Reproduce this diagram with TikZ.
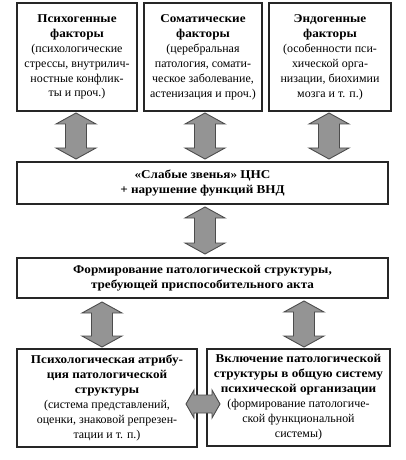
\documentclass[tikz,border=0pt]{standalone}
\usepackage{fontspec}
\setmainfont{Liberation Serif}[BoldFeatures={FakeStretch=1.1}]
\begin{document}
\begin{tikzpicture}[x=1bp,y=-1bp,
  box/.style={draw=black!85, line width=1.1bp, fill=white, align=center, inner sep=0pt,
              font=\fontsize{12}{15}\selectfont},
  barrow/.style={fill=black!42, draw=black!70, line width=0.9bp, line join=miter}]
\useasboundingbox (0,0) rectangle (405,460);
\newcommand\vdarrow[3]{%
 \draw[barrow] (#1,#2) -- (#1+20,#2+11) -- (#1+10.5,#2+11) -- (#1+10.5,#3-11)
   -- (#1+20,#3-11) -- (#1,#3) -- (#1-20,#3-11) -- (#1-10.5,#3-11)
   -- (#1-10.5,#2+11) -- (#1-20,#2+11) -- cycle;}
\newcommand\hdarrow[3]{%
 \draw[barrow] (#1,#3) -- (#1+8,#3-14) -- (#1+8,#3-9) -- (#2-8,#3-9) -- (#2-8,#3-14)
   -- (#2,#3) -- (#2-8,#3+14) -- (#2-8,#3+9) -- (#1+8,#3+9) -- (#1+8,#3+14) -- cycle;}

\node[box, minimum width=120bp, minimum height=108bp] (b1) at (77,57)
 {\textbf{Психогенные}\\\textbf{факторы}\\(психологические\\стрессы, внутрилич-\\ностные конфлик-\\ты и проч.)};
\node[box, minimum width=118bp, minimum height=108bp] (b2) at (203,57)
 {\textbf{Соматические}\\\textbf{факторы}\\(церебральная\\патология, сомати-\\ческое заболевание,\\астенизация и проч.)};
\node[box, minimum width=122bp, minimum height=108bp] (b3) at (330,57)
 {\textbf{Эндогенные}\\\textbf{факторы}\\(особенности пси-\\хической орга-\\низации, биохимии\\мозга и т. п.)};

\node[box, minimum width=371bp, minimum height=42bp] (mid) at (202.5,183)
 {\textbf{«Слабые звенья» ЦНС}\\\textbf{+ нарушение функций ВНД}};
\node[box, minimum width=371bp, minimum height=40bp] (form) at (202.5,278)
 {\textbf{Формирование патологической структуры,}\\\textbf{требующей приспособительного акта}};

\node[box, minimum width=180bp, minimum height=98bp] (bl) at (107,398)
 {\textbf{Психологическая атрибу-}\\\textbf{ция патологической}\\\textbf{структуры}\\(система представлений,\\оценки, знаковой репрезен-\\тации и т. п.)};
\node[box, minimum width=183bp, minimum height=97bp] (br) at (298.5,397.5)
 {\textbf{Включение патологической}\\\textbf{структуры в общую систему}\\\textbf{психической организации}\\(формирование патологиче-\\ской функциональной\\системы)};

\vdarrow{76}{113}{159}
\vdarrow{205}{113}{159}
\vdarrow{329}{113}{159}
\vdarrow{205}{207}{254}
\vdarrow{102}{302}{347}
\vdarrow{304}{301}{347}
\hdarrow{186}{220}{404}
\end{tikzpicture}
\end{document}
